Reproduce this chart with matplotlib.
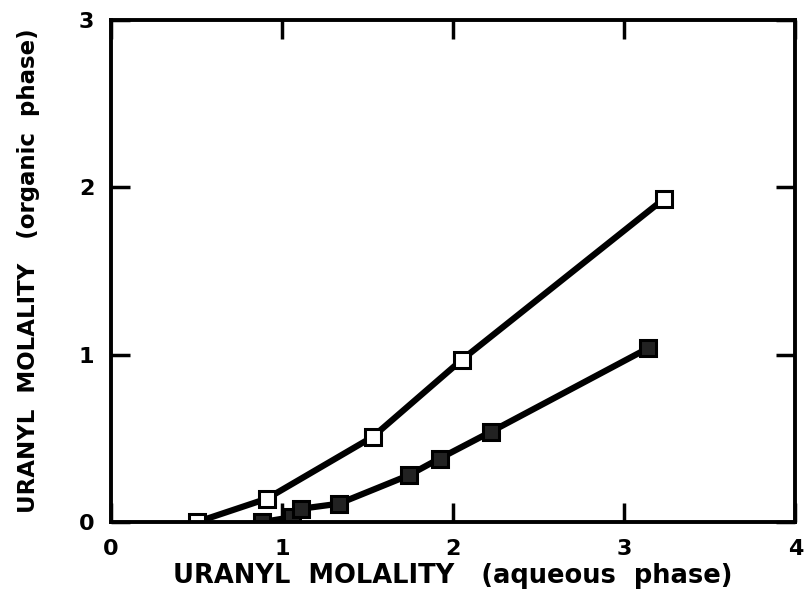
import matplotlib
matplotlib.use("Agg")
import matplotlib.pyplot as plt

# Open squares series
open_x = [0.50, 0.91, 1.53, 2.05, 3.23]
open_y = [0.00, 0.14, 0.51, 0.97, 1.93]

# Filled squares series
filled_x = [0.88, 1.06, 1.11, 1.33, 1.74, 1.92, 2.22, 3.14]
filled_y = [0.00, 0.03, 0.08, 0.11, 0.28, 0.38, 0.54, 1.04]

xticks = [0, 1, 2, 3, 4]
yticks = [0, 1, 2, 3]

plt.rcParams['font.family'] = ['DejaVu Sans']
fig = plt.figure(figsize=(8.05, 5.92), dpi=100)
ax = fig.add_axes([0.138, 0.118, 0.850, 0.848])

ax.plot(open_x, open_y, color='black', lw=4.5, zorder=2,
        marker='s', ms=12, mfc='white', mec='black', mew=2.2)
ax.plot(filled_x, filled_y, color='black', lw=4.5, zorder=2,
        marker='s', ms=11, mfc='#222222', mec='black', mew=2.2)

ax.set_xlim(0, 4)
ax.set_ylim(0, 3)
ax.set_xticks(xticks)
ax.set_yticks(yticks)
ax.set_xticklabels([str(t) for t in xticks], fontsize=16, fontweight='bold')
ax.set_yticklabels([str(t) for t in yticks], fontsize=16, fontweight='bold')
ax.tick_params(direction='in', length=14, width=2.5, top=True, right=True, pad=12)
for s in ax.spines.values():
    s.set_linewidth(2.8)

ax.set_xlabel('URANYL  MOLALITY   (aqueous  phase)', fontsize=18.5, fontweight='bold', labelpad=3)
ax.set_ylabel('URANYL  MOLALITY   (organic  phase)', fontsize=16.5, fontweight='bold', labelpad=28)

fig.savefig('out.png', dpi=100)
